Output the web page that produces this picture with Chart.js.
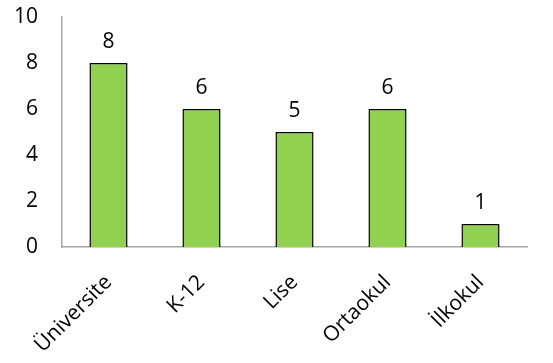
<!DOCTYPE html>
<html>
<head>
<meta charset="utf-8">
<script src="https://cdn.jsdelivr.net/npm/chart.js@4/dist/chart.umd.min.js"></script>
<style>
  html, body { margin: 0; padding: 0; background: #fff; }
  #wrap { width: 553px; height: 363px; }
</style>
</head>
<body>
<div id="wrap"><canvas id="chartOkul"></canvas></div>
<script>
const kategoriler = ['Üniversite', 'K-12', 'Lise', 'Ortaokul', 'İlkokul'];
const degerler    = [8, 6, 5, 6, 1];
const yEksenTik   = [0, 2, 4, 6, 8, 10];

const yaziTipi = "'Open Sans', 'Noto Sans', sans-serif";

// Çubukların üstüne değerleri yaz
const degerEtiketi = {
  id: 'degerEtiketi',
  afterDatasetsDraw(chart) {
    const { ctx } = chart;
    const meta = chart.getDatasetMeta(0);
    ctx.save();
    ctx.fillStyle = '#000';
    ctx.font = `21px ${yaziTipi}`;
    ctx.textAlign = 'center';
    ctx.textBaseline = 'alphabetic';
    meta.data.forEach((bar, i) => {
      ctx.fillText(String(degerler[i]), bar.x, bar.y - 15);
    });
    ctx.restore();
  }
};

new Chart(document.getElementById('chartOkul'), {
  type: 'bar',
  data: {
    labels: kategoriler,
    datasets: [{
      data: degerler,
      backgroundColor: '#92D050',
      borderColor: '#000',
      borderWidth: 1.5,
      borderSkipped: 'bottom',
      categoryPercentage: 1,
      barPercentage: 0.41
    }]
  },
  options: {
    responsive: true,
    maintainAspectRatio: false,
    animation: false,
    layout: { padding: { top: 17, right: 26, left: 0, bottom: 0 } },
    plugins: { legend: { display: false }, tooltip: { enabled: false } },
    scales: {
      x: {
        grid: { display: false },
        border: { display: true, color: '#a6a6a6', width: 1.5 },
        ticks: {
          color: '#000',
          font: { family: yaziTipi, size: 21 },
          minRotation: 45,
          maxRotation: 45,
          padding: 15
        },
        afterFit: (s) => { s.height = 116; s.paddingLeft = 0; s.paddingRight = 0; }
      },
      y: {
        min: 0,
        max: 10,
        grid: { display: false },
        border: { display: true, color: '#a6a6a6', width: 1.5 },
        afterBuildTicks: (s) => { s.ticks = yEksenTik.map(v => ({ value: v })); },
        ticks: {
          color: '#000',
          font: { family: yaziTipi, size: 21 },
          padding: 16
        },
        afterFit: (s) => { s.width = 62; s.paddingTop = 0; s.paddingBottom = 0; }
      }
    }
  },
  plugins: [degerEtiketi]
});
</script>
</body>
</html>
